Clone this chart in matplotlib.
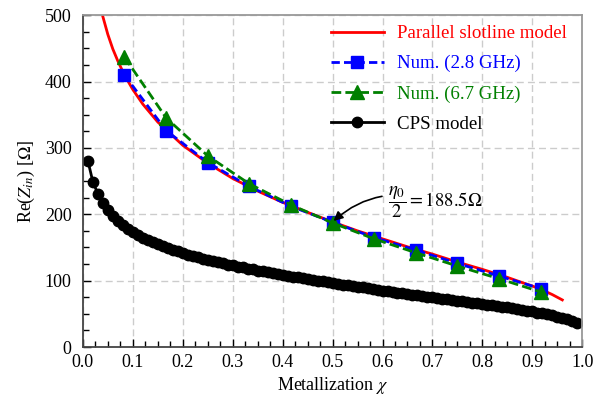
#!/usr/bin/env python

import numpy as np
import matplotlib
matplotlib.use('Agg')
import matplotlib.pyplot as plt
import matplotlib.transforms as mtransforms
from matplotlib.ticker import MultipleLocator, FormatStrFormatter

from matplotlib import rcParams
rcParams['font.family'] = 'serif'
rcParams['font.serif'] = ['Liberation Serif', 'DejaVu Serif']
rcParams['mathtext.fontset'] = 'stix'
rcParams['font.size'] = 13

# Parallel slotline model (red line)
chi_model = [0.035, 0.04, 0.05, 0.06, 0.07, 0.08, 0.09, 0.10, 0.12, 0.15,
             0.20, 0.25, 0.30, 0.35, 0.40, 0.45, 0.50, 0.55, 0.60, 0.65,
             0.70, 0.75, 0.80, 0.85, 0.88, 0.90, 0.92, 0.94, 0.95, 0.96]
z_model = [514, 498, 471, 449, 431, 415, 401, 388, 366, 339,
           304, 277, 254, 235, 218, 203, 188.5, 175, 163, 151,
           140, 128, 117, 105, 97, 92, 86, 79, 75, 71]

# Numerical results
chi_num = [0.083, 0.167, 0.25, 0.333, 0.417, 0.5, 0.583, 0.667, 0.75, 0.833, 0.917]
z_28 = [410, 326, 278, 242, 212, 188, 165, 146, 126, 107, 88]
z_67 = [437, 345, 288, 246, 214, 187, 163, 142, 122, 103, 83]

# CPS model (black dots), chi = 0.01 ... 0.99
chi_cps = np.arange(1, 100) / 100.0
z_cps = [281, 249, 231, 217, 206, 197, 190, 184, 178, 173,
         169, 165, 161, 158, 155, 152, 149, 146, 144, 141,
         139, 137, 135, 133, 131, 129, 128, 126, 124, 123,
         121, 120, 118, 117, 115, 114, 113, 111, 110, 109,
         107, 106, 105, 104, 102, 101, 100, 99, 98, 96,
         95, 94, 93, 92, 91, 90, 89, 88, 86, 85,
         84, 83, 82, 81, 80, 79, 78, 77, 76, 75,
         74, 73, 72, 71, 70, 69, 68, 67, 66, 65,
         64, 63, 62, 61, 60, 59, 58, 56, 55, 54,
         52, 51, 50, 48, 46, 44, 42, 40, 36]

legend_labels = ['Parallel slotline model', 'Num. (2.8 GHz)', 'Num. (6.7 GHz)', 'CPS model']
legend_colors = ['red', 'blue', 'green', 'black']


fig = plt.figure(figsize=(5.96, 3.98), dpi=100)
ax = fig.add_axes([0.139, 0.128, 0.838, 0.834])

l_cps, = ax.plot(chi_cps, z_cps, color='black', lw=2, marker='o', markersize=7.5)
l_mod, = ax.plot(chi_model, z_model, color='red', lw=2)
l_28, = ax.plot(chi_num, z_28, color='blue', lw=2, ls=(0, (3, 1.5)),
                marker='s', markersize=8.5)
l_67, = ax.plot(chi_num, z_67, color='green', lw=2, ls=(0, (3.5, 1.5)),
                marker='^', markersize=9.5)

ax.set_xlim(0, 1)
ax.set_ylim(0, 500)
ax.xaxis.set_major_locator(MultipleLocator(0.1))
ax.xaxis.set_minor_locator(MultipleLocator(0.025))
ax.yaxis.set_major_locator(MultipleLocator(100))
ax.yaxis.set_minor_locator(MultipleLocator(25))
ax.xaxis.set_major_formatter(FormatStrFormatter('%.1f'))
ax.tick_params(which='both', direction='in', top=False, right=False)
ax.tick_params(which='major', length=6, width=1)
ax.tick_params(which='minor', length=4, width=1)
ax.tick_params(axis='y', pad=8)
ax.tick_params(axis='x', pad=5)
ax.grid(True, which='major', color='#cccccc', ls=(0, (5, 3)), lw=1)
ax.set_axisbelow(True)

for s in ['left', 'bottom']:
    ax.spines[s].set_color('#444444')
    ax.spines[s].set_linewidth(1.3)
for s in ['top', 'right']:
    ax.spines[s].set_color('#999999')
    ax.spines[s].set_linewidth(1.3)

ax.set_xlabel(r'Metallization $\chi$', labelpad=3)
ax.set_ylabel(r'Re($Z_{in}$) [$\Omega$]', labelpad=6)

# the "0" on the y axis sits a bit lower in the original
fig.canvas.draw()
ylab0 = ax.get_yticklabels()[0]
ylab0.set_transform(ylab0.get_transform() +
                    mtransforms.ScaledTranslation(0, -5 / 72.0, fig.dpi_scale_trans))

leg = ax.legend([l_mod, l_28, l_67, l_cps], legend_labels, loc='upper left',
                bbox_to_anchor=(0.47, 1.01), frameon=False, handlelength=2.8,
                handletextpad=0.7, labelspacing=0.68, fontsize=13.6, borderaxespad=0.3)
for txt, c in zip(leg.get_texts(), legend_colors):
    txt.set_color(c)

ax.annotate(r'$\dfrac{\eta_0}{2} = 188.5\Omega$', xy=(0.502, 190), xytext=(0.61, 218),
            va='center', ha='left', fontsize=13.5,
            arrowprops=dict(arrowstyle='-|>', color='black', lw=1.2,
                            connectionstyle='arc3,rad=0.3', shrinkA=2, shrinkB=0))

plt.savefig('out.png', dpi=100)
